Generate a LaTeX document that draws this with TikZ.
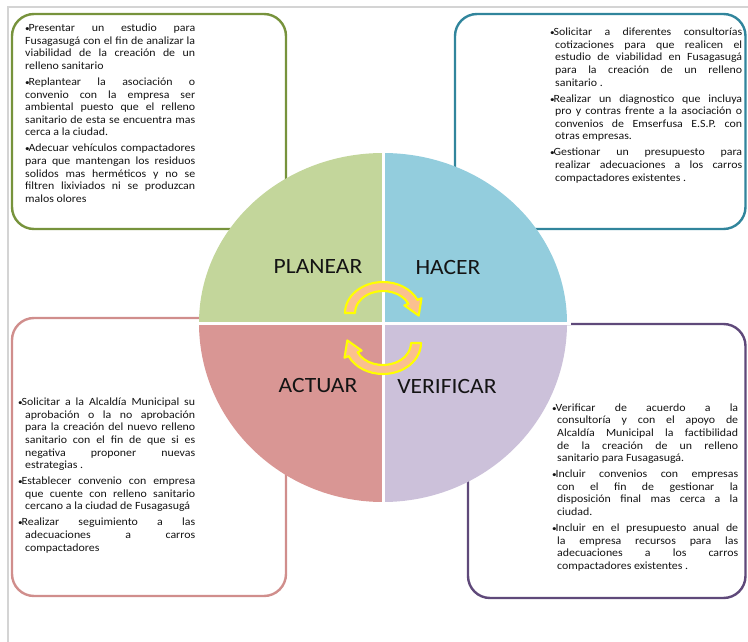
\documentclass[tikz,border=0pt]{standalone}
\usepackage{fontspec}
\setmainfont{Carlito}[FakeStretch=1.08]
\definecolor{qgreen}{HTML}{C3D69B}
\definecolor{qblue}{HTML}{93CDDD}
\definecolor{qpink}{HTML}{D99694}
\definecolor{qpurple}{HTML}{CCC1DA}
\definecolor{bgreen}{HTML}{77933C}
\definecolor{bteal}{HTML}{31859C}
\definecolor{bpink}{HTML}{D08E8C}
\definecolor{bpurple}{HTML}{5F497A}
\definecolor{arrfill}{HTML}{FAC090}
\definecolor{arrline}{HTML}{FFFF00}
\definecolor{framegray}{HTML}{D4D4D4}
\hbadness=10000
\hfuzz=3pt
\def\bhang{0pt}
\newcommand{\jline}[1]{\hbox to \hsize{\spaceskip=0.226em plus 1fil minus 0.04em\relax\strut #1}}
\newcommand{\lline}[1]{\hbox{\strut #1}}
\newcommand{\bul}{\hspace*{-\bhang}\makebox[3.4pt][l]{\fontsize{8.5}{8.5}\selectfont\textbullet}}
\newcommand{\igap}{\kern3.4pt}
\newcommand{\tbox}[3]{\vtop{\hsize=#1\relax\def\bhang{#2}\baselineskip=12.6pt\relax\lineskip=0pt\relax #3}}
\tikzset{
  txt/.style={inner sep=0pt, anchor=north west, text=black!92,
    font=\fontsize{11}{12.6}\selectfont},
  lab/.style={inner sep=0pt, text=black!92, font=\fontsize{21.8}{24}\selectfont},
  boxbase/.style={line width=2.4pt, rounded corners=22pt, fill=white},
  cyc/.style={fill=arrfill, draw=arrline, line width=2.1pt, line join=round},
  sep/.style={white, line width=3pt}
}
\begin{document}
\begin{tikzpicture}[x=1pt,y=-1pt]
\useasboundingbox (0,0) rectangle (748,642);
% frame lines
\draw[framegray, line width=1.2pt] (8,642) -- (8,7) -- (748,7);
% boxes
\draw[boxbase, draw=bgreen] (12,14) rectangle (286,229);
\draw[boxbase, draw=bteal] (455,14) rectangle (745.5,229);
\draw[boxbase, draw=bpink] (12,318) rectangle (286,596);
\draw[boxbase, draw=bpurple] (468,324) rectangle (745.5,598);
% quadrants
\fill[qgreen] (383,323) -- ++(-184,0) arc[start angle=180, end angle=270, x radius=184, y radius=170] -- cycle;
\fill[qblue] (383,323) -- ++(0,-170) arc[start angle=270, end angle=360, x radius=184, y radius=170] -- cycle;
\fill[qpurple] (383,323) -- ++(184,0) arc[start angle=0, end angle=90, x radius=184, y radius=179] -- cycle;
\fill[qpink] (383,323) -- ++(0,179) arc[start angle=90, end angle=180, x radius=184, y radius=179] -- cycle;
\draw[sep] (195,323) -- (571,323);
\draw[sep] (383,148) -- (383,506);
% labels
\node[lab] (planear) at (318,267) {PLANEAR};
\node[lab] (hacer) at (448,267) {HACER};
\node[lab] (actuar) at (318,386) {ACTUAR};
\node[lab] (verificar) at (447,386) {VERIFICAR};
% cycle arrows
\def\cyclearrow{(345,313) arc[start angle=180, end angle=335, x radius=38, y radius=31]
  -- (421.5,298.2) -- (418.7,315.6) -- (404.3,305.4) -- (408.4,303.7)
  arc[start angle=335, end angle=180, x radius=28, y radius=22] -- cycle}
\draw[cyc] \cyclearrow;
\begin{scope}[rotate around={180:(383,328)}]
\draw[cyc] \cyclearrow;
\end{scope}
% texts
\node[txt] (tltext) at (25,22.6) {\tbox{170pt}{0pt}{%
\jline{\bul Presentar un estudio para}
\jline{Fusagasugá con el fin de analizar la}
\jline{viabilidad de la creación de un}
\lline{relleno sanitario}
\igap
\jline{\bul Replantear la asociación o}
\jline{convenio con la empresa ser}
\jline{ambiental puesto que el relleno}
\jline{sanitario de esta se encuentra mas}
\lline{cerca a la ciudad.}
\igap
\jline{\bul Adecuar vehículos compactadores}
\jline{para que mantengan los residuos}
\jline{solidos mas herméticos y no se}
\jline{filtren lixiviados ni se produzcan}
\lline{malos olores}}};
\node[txt] (trtext) at (555,26.6) {\tbox{187pt}{5pt}{%
\jline{\bul Solicitar a diferentes consultorías}
\jline{cotizaciones para que realicen el}
\jline{estudio de viabilidad en Fusagasugá}
\jline{para la creación de un relleno}
\lline{sanitario .}
\igap
\jline{\bul Realizar un diagnostico que incluya}
\jline{pro y contras frente a la asociación o}
\jline{convenios de Emserfusa E.S.P. con}
\lline{otras empresas.}
\igap
\jline{\bul Gestionar un presupuesto para}
\jline{realizar adecuaciones a los carros}
\lline{compactadores existentes .}}};
\node[txt] (bltext) at (25,396.6) {\tbox{170pt}{7pt}{%
\jline{\bul Solicitar a la Alcaldía Municipal su}
\jline{aprobación o la no aprobación}
\jline{para la creación del nuevo relleno}
\jline{sanitario con el fin de que si es}
\jline{negativa proponer nuevas}
\lline{estrategias .}
\igap
\jline{\bul Establecer convenio con empresa}
\jline{que cuente con relleno sanitario}
\lline{cercano a la ciudad de Fusagasugá}
\igap
\jline{\bul Realizar seguimiento a las}
\jline{adecuaciones a carros}
\lline{compactadores}}};
\node[txt] (brtext) at (557,402.2) {\tbox{181pt}{5pt}{%
\jline{\bul Verificar de acuerdo a la}
\jline{consultoría y con el apoyo de}
\jline{Alcaldía Municipal la factibilidad}
\jline{de la creación de un relleno}
\lline{sanitario para Fusagasugá.}
\igap
\jline{\bul Incluir convenios con empresas}
\jline{con el fin de gestionar la}
\jline{disposición final mas cerca a la}
\lline{ciudad.}
\igap
\jline{\bul Incluir en el presupuesto anual de}
\jline{la empresa recursos para las}
\jline{adecuaciones a los carros}
\lline{compactadores existentes .}}};
\end{tikzpicture}
\end{document}
